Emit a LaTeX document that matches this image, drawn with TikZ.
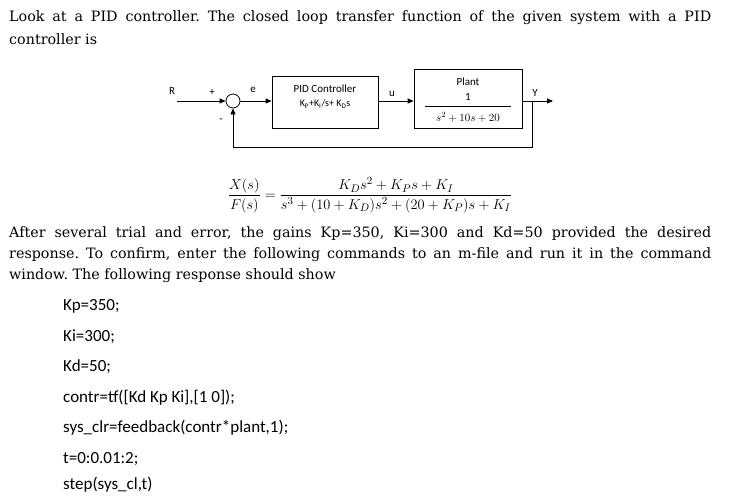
\documentclass[tikz,border=0pt]{standalone}
\usepackage{fontspec}
\setmainfont{DejaVu Serif}
\newfontfamily\calfnt{Carlito}
\usetikzlibrary{arrows.meta}
\frenchspacing
\begin{document}
\begin{tikzpicture}[x=1pt,y=-1pt,
  blk/.style={draw,thick,inner sep=0},
  sig/.style={thick,-{Triangle[length=6pt,width=5pt]}},
  lbl/.style={font=\calfnt\fontsize{11}{13}\selectfont,inner sep=0},
  txt/.style={anchor=west,inner sep=0,font=\fontsize{14.3}{18}\selectfont},
  code/.style={anchor=west,inner sep=0,font=\calfnt\fontsize{17}{20}\selectfont}]
\useasboundingbox[fill=white] (0,0) rectangle (733,495);
% text
\node[txt] (t1) at (9,18) {\makebox[702pt][s]{Look at a PID controller. The closed loop transfer function of the given system with a PID}};
\node[txt] (t2) at (9,39) {controller is};
% diagram
\node[lbl] (R) at (172,91) {R};
\coordinate (rin) at (177,101);
\node[draw,thick,circle,minimum size=14pt,inner sep=0] (sum) at (233,101) {};
\node[lbl] (plus) at (212,92) {+};
\node[lbl] (minus) at (221,121) {-};
\node[lbl] (e) at (253,90) {e};
\node[blk,minimum width=106pt,minimum height=52pt] (pid) at (325,102) {};
\node[lbl] (pid1) at (325,89) {PID Controller};
\node[lbl,font=\calfnt\fontsize{10}{12}\selectfont] (pid2) at (325,104) {K\textsubscript{P}+K\textsubscript{I}/s+ K\textsubscript{D}s};
\node[lbl] (u) at (392,94) {u};
\node[blk,minimum width=108pt,minimum height=59pt] (plant) at (468,98.5) {};
\node[lbl] (pl1) at (468,82) {Plant};
\node[lbl] (pl2) at (468,97) {1};
\draw (pl2.south) ++(-43,5) coordinate (fa) -- ++(86,0) coordinate (fb);
\node[lbl,font=\fontsize{11}{13}\selectfont] (pl3) at (468,117) {$s^2+10s+20$};
\node[lbl] (Y) at (535,93) {Y};
\coordinate (out) at (553,101);
\coordinate (tap) at (532,101);
\coordinate (fb1) at (532,147);
\coordinate (fb2) at (233,147);
\draw[sig] (rin) -- (sum);
\draw[sig] (sum) -- (pid.west|-sum);
\draw[sig] (pid.east|-sum) -- (plant.west|-sum);
\draw[sig] (plant.east|-sum) -- (out);
\draw[sig] (tap) -- (fb1) -- (fb2) -- (sum);
% equation
\node[inner sep=0,font=\fontsize{15.5}{18}\selectfont] (eq) at (370,195)
 {$\displaystyle \frac{X(s)}{F(s)}=\frac{K_Ds^2+K_Ps+K_I}{s^3+(10+K_D)s^2+(20+K_P)s+K_I}$};
% paragraph
\node[txt] (p1) at (9,234) {\makebox[702pt][s]{After several trial and error, the gains Kp=350, Ki=300 and Kd=50 provided the desired}};
\node[txt] (p2) at (9,255) {\makebox[702pt][s]{response. To confirm, enter the following commands to an m-file and run it in the command}};
\node[txt] (p3) at (9,276) {window. The following response should show};
% code
\node[code] (c1) at (63,306) {Kp=350;};
\node[code] (c2) at (63,337) {Ki=300;};
\node[code] (c3) at (63,367) {Kd=50;};
\node[code] (c4) at (63,398) {contr=tf([Kd Kp Ki],[1 0]);};
\node[code] (c5) at (63,428) {sys\_clr=feedback(contr*plant,1);};
\node[code] (c6) at (63,459) {t=0:0.01:2;};
\node[code] (c7) at (63,485) {step(sys\_cl,t)};
\end{tikzpicture}
\end{document}
